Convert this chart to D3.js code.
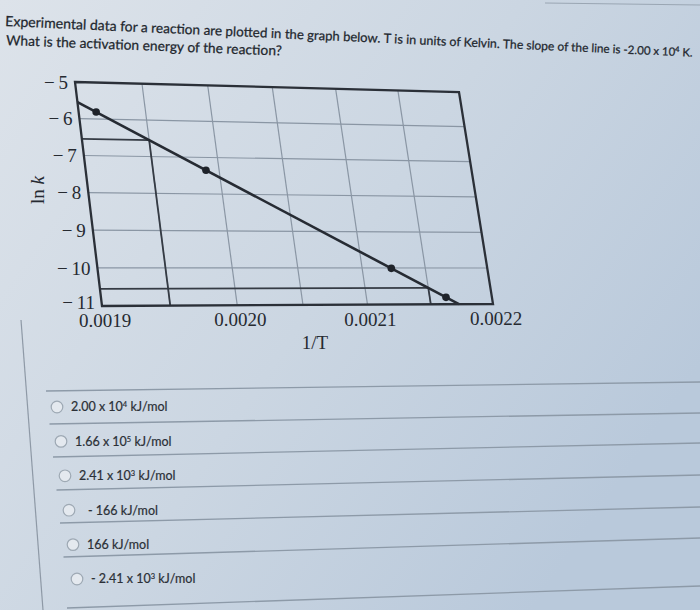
<!DOCTYPE html>
<html>
<head>
<meta charset="utf-8">
<script src="https://cdn.jsdelivr.net/npm/d3@7"></script>
<style>
  body { margin: 0; background: #cfd9e4; }
  svg { display: block; }
</style>
</head>
<body>
<svg width="700" height="610"></svg>
<script>
// values
const xTicks = [0.0019, 0.0020, 0.0021, 0.0022];
const yTicks = [-5, -6, -7, -8, -9, -10, -11];
const xGrid = [0.00195, 0.0020, 0.00205, 0.0021, 0.00215];
const yGrid = [-6, -7, -8, -9, -10];
const pointX = [0.001913, 0.001990, 0.002123, 0.002163];
const pointY = [-5.81, -7.35, -10.01, -10.81];
const fitX = [0.0019, 0.0021725];
const fitY = [-5.55, -11];
const guideX = [0.00195, 0.00215];
const guideY = [-6.55, -10.55];

const question1 = "Experimental data for a reaction are plotted in the graph below. T is in units of Kelvin. The slope of the line is -2.00 x 10";
const question2 = "What is the activation energy of the reaction?";
const answers = [
  ["2.00 x 10", "4", " kJ/mol"],
  ["1.66 x 10", "5", " kJ/mol"],
  ["2.41 x 10", "3", " kJ/mol"],
  ["- 166 kJ/mol", "", ""],
  ["166 kJ/mol", "", ""],
  ["- 2.41 x 10", "3", " kJ/mol"]
];

const svg = d3.select("svg"),
      width = +svg.attr("width"),
      height = +svg.attr("height");

// paper background, a bit darker/bluer to the right like the photo
const grad = svg.append("defs").append("linearGradient")
    .attr("id", "bg").attr("x1", 0).attr("y1", 0).attr("x2", 1).attr("y2", 0.6);
grad.append("stop").attr("offset", 0).attr("stop-color", "#dde3ea");
grad.append("stop").attr("offset", 0.55).attr("stop-color", "#cbd6e2");
grad.append("stop").attr("offset", 1).attr("stop-color", "#b9c9db");
svg.append("rect").attr("width", width).attr("height", height).attr("fill", "url(#bg)");

// page edges visible in the photo
svg.append("line").attr("x1", 545).attr("y1", 3).attr("x2", 700).attr("y2", 5)
    .attr("stroke", "#9aa6b3").attr("stroke-width", 1.2);
svg.append("line").attr("x1", 21).attr("y1", 320).attr("x2", 43).attr("y2", 610)
    .attr("stroke", "#8e99a6").attr("stroke-width", 1.2);

// question text (photo is tilted, right side further away -> smaller)
const q = svg.append("g")
    .style("font-family", "Lato, 'Open Sans', sans-serif")
    .attr("fill", "#22272e")
    .attr("stroke", "#22272e").attr("stroke-width", 0.25);
const words = question1.split(" ");
const size = d3.scaleLinear().domain([0, words.length - 1]).range([14.1, 11.3]);
const q1 = q.append("text").attr("transform", "translate(5,26) rotate(2.55)");
q1.selectAll("tspan").data(words).join("tspan")
    .style("font-size", (d, i) => size(i) + "px")
    .text((d, i) => i < words.length - 1 ? d + " " : d);
q1.append("tspan").attr("dy", -4).style("font-size", "7.5px").text("4");
q1.append("tspan").attr("dy", 4).style("font-size", "11.3px").text(" K.");
q.append("text").attr("transform", "translate(6,45) rotate(2.2)")
    .style("font-size", "13.8px").text(question2);

// plot frame corners in the photo -> projective map from the unit square
const corners = [[75, 82], [459, 92], [493, 304], [102, 306]];
const H = (() => {
  const [[x0, y0], [x1, y1], [x2, y2], [x3, y3]] = corners;
  const dx1 = x1 - x2, dx2 = x3 - x2, dx3 = x0 - x1 + x2 - x3;
  const dy1 = y1 - y2, dy2 = y3 - y2, dy3 = y0 - y1 + y2 - y3;
  const den = dx1 * dy2 - dx2 * dy1;
  const g = (dx3 * dy2 - dx2 * dy3) / den;
  const h = (dx1 * dy3 - dx3 * dy1) / den;
  return {
    a: x1 - x0 + g * x1, b: x3 - x0 + h * x3, c: x0,
    d: y1 - y0 + g * y1, e: y3 - y0 + h * y3, f: y0, g, h
  };
})();
const proj = (u, v) => {
  const w = H.g * u + H.h * v + 1;
  return [(H.a * u + H.b * v + H.c) / w, (H.d * u + H.e * v + H.f) / w];
};

const x = d3.scaleLinear().domain([0.0019, 0.0022]).range([0, 1]);
const y = d3.scaleLinear().domain([-5, -11]).range([0, 1]);
const P = (dx, dy) => proj(x(dx), y(dy));

const seg = (sel, a, b) => sel
    .attr("x1", d => a(d)[0]).attr("y1", d => a(d)[1])
    .attr("x2", d => b(d)[0]).attr("y2", d => b(d)[1]);

const g = svg.append("g");

seg(g.append("g").selectAll("line").data(xGrid).join("line"),
    d => P(d, -5), d => P(d, -11))
    .attr("stroke", "#8a96a4").attr("stroke-width", 1.2);

seg(g.append("g").selectAll("line").data(yGrid).join("line"),
    d => P(0.0019, d), d => P(0.0022, d))
    .attr("stroke", "#8a96a4").attr("stroke-width", 1.2);

// construction lines down to the axes
const guides = g.append("g").attr("stroke", "#353b44").attr("stroke-width", 1.8);
seg(guides.append("g").selectAll("line").data(d3.range(guideX.length)).join("line"),
    i => P(0.0019, guideY[i]), i => P(guideX[i], guideY[i]));
seg(guides.append("g").selectAll("line").data(d3.range(guideX.length)).join("line"),
    i => P(guideX[i], guideY[i]), i => P(guideX[i], -11));

g.append("path")
    .datum(fitX.map((d, i) => P(d, fitY[i])))
    .attr("fill", "none")
    .attr("stroke", "#262b33")
    .attr("stroke-width", 2.6)
    .attr("d", d3.line());

g.append("g").selectAll("circle")
    .data(pointX.map((d, i) => P(d, pointY[i])))
    .join("circle")
    .attr("cx", d => d[0]).attr("cy", d => d[1])
    .attr("r", 3.8)
    .attr("fill", "#1f232a");

g.append("path")
    .datum([P(0.0019, -5), P(0.0022, -5), P(0.0022, -11), P(0.0019, -11)])
    .attr("fill", "none")
    .attr("stroke", "#2b3038").attr("stroke-width", 2.3)
    .attr("d", d => d3.line()(d) + "Z");

// tick labels
const labels = svg.append("g")
    .style("font-family", "'Liberation Serif', 'DejaVu Serif', serif")
    .style("font-size", "19px")
    .attr("fill", "#262a31");

labels.selectAll(".ylab").data(yTicks).join("text")
    .attr("class", "ylab")
    .attr("x", d => P(0.0019, d)[0] - 7)
    .attr("y", d => P(0.0019, d)[1] - (d === -11 ? 4 : 0))
    .attr("dy", "0.35em")
    .attr("text-anchor", "end")
    .text(d => "\u2212\u2009" + Math.abs(d));

labels.selectAll(".xlab").data(xTicks).join("text")
    .attr("class", "xlab")
    .attr("x", d => P(d, -11)[0] + 3)
    .attr("y", d => P(d, -11)[1] + 21)
    .attr("text-anchor", "middle")
    .text(d => d.toFixed(4));

const tMid = P(0.00205, -11);
labels.append("text")
    .attr("x", tMid[0] + 12).attr("y", tMid[1] + 44)
    .attr("text-anchor", "middle")
    .text("1/T");

const lnk = labels.append("text")
    .attr("transform", "translate(44,190) rotate(-90)")
    .attr("text-anchor", "middle");
lnk.append("tspan").text("ln ");
lnk.append("tspan").style("font-style", "italic").text("k");

// answer list
const lineLeftY = [391, 424, 457, 490, 523, 557, 608];
const lineRightY = [382, 413, 443, 475, 507, 538, 586];
svg.append("g").selectAll("line").data(lineLeftY).join("line")
    .attr("x1", (d, i) => 46 + i * 3.5).attr("y1", d => d)
    .attr("x2", 700).attr("y2", (d, i) => lineRightY[i])
    .attr("stroke", "#8d9aa8").attr("stroke-width", 1.3);

const rows = svg.append("g").selectAll("g").data(answers).join("g")
    .attr("transform", (d, i) => `translate(${57 + i * 4},${407 + i * 34.4})`);

rows.append("circle")
    .attr("r", 5.8)
    .attr("fill", "#e4e9ef")
    .attr("stroke", "#9ea9b4").attr("stroke-width", 1.2);

const rt = rows.append("text")
    .attr("x", (d, i) => i === 3 ? 19 : 14).attr("dy", "0.35em")
    .style("font-family", "Lato, 'Open Sans', sans-serif")
    .style("font-size", "12.5px")
    .attr("fill", "#2b3037")
    .attr("stroke", "#2b3037").attr("stroke-width", 0.2);
rt.append("tspan").text(d => d[0]);
rt.append("tspan").attr("dy", -4).style("font-size", "7.5px").text(d => d[1]);
rt.append("tspan").attr("dy", d => d[1] ? 4 : 0).text(d => d[2]);
</script>
</body>
</html>
